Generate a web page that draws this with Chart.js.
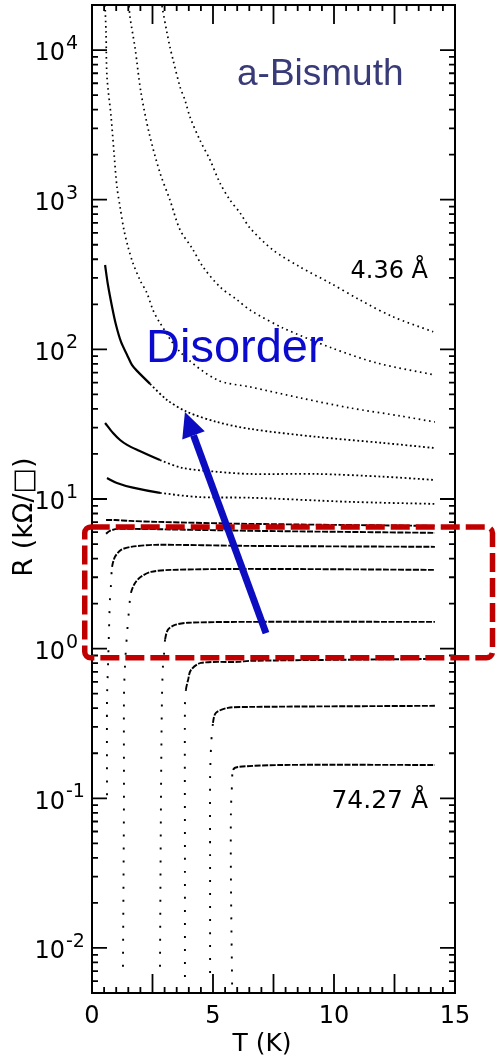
<!DOCTYPE html>
<html>
<head>
<meta charset="utf-8">
<script src="https://cdn.jsdelivr.net/npm/chart.js@4.4.1/dist/chart.umd.min.js"></script>
<style>
  html, body { margin: 0; padding: 0; background: #fff; }
</style>
</head>
<body>
<canvas id="bismuthChart" width="500" height="1059"></canvas>
<script>
// [T (K), R (kOhm/sq)], thinnest film (4.36 A) first
const film436 = [[2.89,19700],[3.10,13000],[3.22,10500],[3.35,8580],[3.64,5660],[3.84,4640],[4.05,3570],[4.46,2500],[4.88,1840],[5.29,1290],[5.70,995],[6.12,815],[6.53,647],[7.48,461],[8.60,355],[9.83,278],[11.07,214],[12.44,165],[14.10,131]];
const filmB = [[1.53,19700],[1.57,16600],[1.78,10300],[2.02,5240],[2.36,2790],[2.81,1510],[3.22,996],[3.64,628],[4.13,476],[4.59,355],[5.29,261],[6.00,214],[6.53,183],[7.89,139],[9.92,102],[11.78,81],[14.17,67.4]];
const filmC = [[0.54,20000],[0.58,13000],[0.62,6600],[0.79,3570],[0.91,2050],[1.03,1220],[1.16,894],[1.32,628],[1.49,483],[1.69,378],[1.98,291],[2.27,238],[2.52,183],[2.81,150],[3.64,96],[5.17,62.5],[6.53,56.1],[8.60,47.4],[10.66,40.6],[12.73,35.9],[14.17,32.7]];
const filmD = [[0.54,366],[0.66,269],[0.83,192],[0.99,146],[1.20,112],[1.45,91.8],[1.65,78.7],[1.86,71.8],[2.40,58.8],[3.10,45.9],[3.93,38.2],[5.17,32.7],[6.53,29.4],[9.30,26.0],[12.02,23.7],[14.17,21.9]];
const filmE = [[0.54,32.2],[0.87,27.6],[1.16,24.8],[1.45,23.0],[1.86,21.3],[2.81,18.2],[3.76,16.1],[5.17,15.2],[6.53,14.7],[9.30,14.7],[12.02,14.1],[14.17,13.4]];
const filmF = [[0.62,13.8],[1.03,12.8],[1.69,11.9],[2.81,11.0],[4.46,10.3],[6.53,10.2],[10.66,9.57],[14.17,9.27]];
const filmG1 = [[0.58,7.24],[0.95,7.24],[1.57,7.14],[2.73,7.03],[6.53,6.82],[14.17,6.61]];
const filmG2 = [[0.58,5.85],[0.74,6.13],[1.07,6.31],[1.98,6.31],[6.53,6.13],[14.17,5.94]];
const filmH = [[0.62,0.105],[0.62,0.455],[0.66,0.755],[0.70,1.27],[0.74,2.12],[0.79,2.75],[0.83,3.52],[0.95,4.11],[1.20,4.57],[1.61,4.79],[2.60,4.94],[6.53,4.86],[14.17,4.79]];
const filmI = [[1.28,0.0075],[1.32,0.0977],[1.32,0.455],[1.36,0.755],[1.45,1.27],[1.53,1.81],[1.61,2.36],[1.78,2.75],[2.02,3.02],[2.44,3.26],[3.26,3.36],[6.53,3.41],[14.17,3.36]];
const filmJ = [[2.81,0.0075],[2.85,0.0977],[2.89,0.455],[2.93,0.755],[2.98,0.938],[3.02,1.15],[3.14,1.34],[3.43,1.44],[3.97,1.49],[6.53,1.51],[14.17,1.51]];
const filmK = [[3.84,0.0064],[3.84,0.0432],[3.84,0.408],[3.88,0.531],[3.97,0.618],[4.09,0.721],[4.50,0.803],[6.03,0.816],[6.53,0.829],[14.17,0.855]];
const filmL = [[4.88,0.0068],[4.88,0.0401],[4.88,0.133],[4.92,0.221],[5.00,0.319],[5.12,0.372],[5.62,0.402],[6.53,0.408],[14.17,0.415]];
const film7427 = [[5.79,0.0057],[5.74,0.0299],[5.74,0.080],[5.79,0.127],[5.83,0.155],[6.03,0.162],[7.89,0.167],[14.17,0.167]];

const xLabelValues = [0, 5, 10, 15];
const yDecades = [-2, -1, 0, 1, 2, 3, 4];
const thicknessLabels = ['4.36 Å', '74.27 Å'];

function toPoints(arr) {
    return arr.map(function (p) { return { x: p[0], y: p[1] }; });
}

// steep parts (the superconducting drops) only show a few scattered points
function isSteep(ctx) {
    let dx = Math.abs(ctx.p1.x - ctx.p0.x);
    let dy = Math.abs(ctx.p1.y - ctx.p0.y);
    return dy > 4 * dx && dy > 10;
}

function dottedSet(arr) {
    return { data: toPoints(arr), borderColor: '#000', borderWidth: 1.7, borderDash: [1.6, 3.6] };
}

function midSet(arr) {
    return {
        data: toPoints(arr), borderColor: '#000', borderWidth: 1.8, borderDash: [1.8, 2.6],
        segment: {
            borderDash: ctx => ctx.p0.parsed.x < 1.9 ? [] : undefined,
            borderWidth: ctx => ctx.p0.parsed.x < 1.9 ? 2.2 : undefined
        }
    };
}

function dropSet(arr) {
    return {
        data: toPoints(arr), borderColor: '#000', borderWidth: 1.9, borderDash: [6, 1.5],
        segment: { borderDash: ctx => isSteep(ctx) ? [2, 11] : undefined }
    };
}

const frameAndText = {
    id: 'frameAndText',
    afterDatasetsDraw(chart) {
        const c = chart.ctx, a = chart.chartArea, xs = chart.scales.x, ys = chart.scales.y;
        c.save();
        c.strokeStyle = '#000';
        c.lineWidth = 2;
        c.strokeRect(a.left, a.top, a.right - a.left, a.bottom - a.top);

        // inward ticks, x every 0.5 K with long ones every 2.5 K
        c.lineWidth = 1.8;
        c.beginPath();
        for (let i = 0; i <= 30; i++) {
            let px = xs.getPixelForValue(i * 0.5);
            let len = i % 5 === 0 ? 19 : 6;
            c.moveTo(px, a.bottom); c.lineTo(px, a.bottom - len);
            c.moveTo(px, a.top); c.lineTo(px, a.top + len);
        }
        for (let d = -3; d <= 4; d++) {
            for (let m = 1; m <= 9; m++) {
                let v = m * Math.pow(10, d);
                if (v < ys.min || v > ys.max) continue;
                let py = ys.getPixelForValue(v);
                let len = m === 1 ? 15 : 6;
                c.moveTo(a.left, py); c.lineTo(a.left + len, py);
                c.moveTo(a.right, py); c.lineTo(a.right - len, py);
            }
        }
        c.stroke();

        // y tick labels as 10 with a raised exponent
        c.fillStyle = '#000';
        yDecades.forEach(function (d) {
            let py = ys.getPixelForValue(Math.pow(10, d));
            c.font = '24px "DejaVu Sans"';
            c.textAlign = 'right';
            c.textBaseline = 'middle';
            c.fillText('10', 65, py + 4);
            c.font = '19px "DejaVu Sans"';
            c.textAlign = 'left';
            c.fillText(d < 0 ? '-' + (-d) : String(d), 66, py - 6);
        });

        c.font = '25px "DejaVu Sans"';
        c.textAlign = 'center';
        c.textBaseline = 'middle';
        c.fillText('T (K)', 262, 1044);
        c.save();
        c.translate(25, 517);
        c.rotate(-Math.PI / 2);
        c.font = '27px "DejaVu Sans"';
        c.fillText('R (kΩ/□)', 0, 0);
        c.restore();

        c.font = '24px "DejaVu Sans"';
        c.textAlign = 'right';
        c.textBaseline = 'alphabetic';
        c.fillText(thicknessLabels[0], 428, 278);
        c.font = '25px "DejaVu Sans"';
        c.fillText(thicknessLabels[1], 428, 808);
        c.restore();
    },
    afterDraw(chart) {
        const c = chart.ctx, xs = chart.scales.x, ys = chart.scales.y;
        c.save();
        c.font = '37px "Liberation Sans"';
        c.fillStyle = '#383b78';
        c.textAlign = 'left';
        c.textBaseline = 'alphabetic';
        c.fillText('a-Bismuth', 237, 85);

        c.font = '47px "Liberation Sans"';
        c.fillStyle = '#0b0bd0';
        c.fillText('Disorder', 146, 362);

        // red dashed box round the crossover films
        let bx0 = xs.getPixelForValue(-0.3), bx1 = xs.getPixelForValue(16.55);
        let by0 = ys.getPixelForValue(6.5), by1 = ys.getPixelForValue(0.87);
        c.strokeStyle = '#c00000';
        c.lineWidth = 5.5;
        c.setLineDash([19, 6]);
        c.beginPath();
        c.roundRect(bx0, by0, bx1 - bx0, by1 - by0, 6);
        c.stroke();
        c.setLineDash([]);

        // arrow pointing towards the thinner films
        let tx = xs.getPixelForValue(7.19), ty = ys.getPixelForValue(1.27);
        let hx = xs.getPixelForValue(3.84), hy = ys.getPixelForValue(38.2);
        let ang = Math.atan2(hy - ty, hx - tx);
        let headLen = 25, headHalf = 12;
        let bx = hx - headLen * Math.cos(ang), by = hy - headLen * Math.sin(ang);
        c.strokeStyle = '#0c0cc0';
        c.fillStyle = '#0c0cc0';
        c.lineWidth = 7;
        c.beginPath();
        c.moveTo(tx, ty);
        c.lineTo(bx, by);
        c.stroke();
        c.beginPath();
        c.moveTo(hx, hy);
        c.lineTo(bx + headHalf * Math.sin(ang), by - headHalf * Math.cos(ang));
        c.lineTo(bx - headHalf * Math.sin(ang), by + headHalf * Math.cos(ang));
        c.closePath();
        c.fill();
        c.restore();
    }
};

const bismuthChart = new Chart(document.getElementById('bismuthChart'), {
    type: 'line',
    data: {
        datasets: [
            dottedSet(film436), dottedSet(filmB), dottedSet(filmC),
            midSet(filmD), midSet(filmE), midSet(filmF),
            dropSet(filmG1), dropSet(filmG2), dropSet(filmH), dropSet(filmI),
            dropSet(filmJ), dropSet(filmK), dropSet(filmL), dropSet(film7427)
        ]
    },
    options: {
        responsive: false,
        animation: false,
        devicePixelRatio: 1,
        layout: { padding: { left: 0, right: 45, top: 5, bottom: 0 } },
        elements: { point: { radius: 0 }, line: { tension: 0.3 } },
        plugins: { legend: { display: false }, tooltip: { enabled: false } },
        scales: {
            x: {
                type: 'linear', min: 0, max: 15,
                grid: { display: false }, border: { display: false },
                ticks: {
                    stepSize: 5, color: '#000', padding: 1, maxRotation: 0,
                    font: { family: 'DejaVu Sans', size: 24 },
                    callback: v => xLabelValues.includes(v) ? String(v) : ''
                },
                afterFit: s => { s.height = 66; }
            },
            y: {
                type: 'logarithmic', min: 0.005, max: 20000,
                grid: { display: false }, border: { display: false },
                ticks: { display: false },
                afterFit: s => { s.width = 92; }
            }
        }
    },
    plugins: [frameAndText]
});
</script>
</body>
</html>
